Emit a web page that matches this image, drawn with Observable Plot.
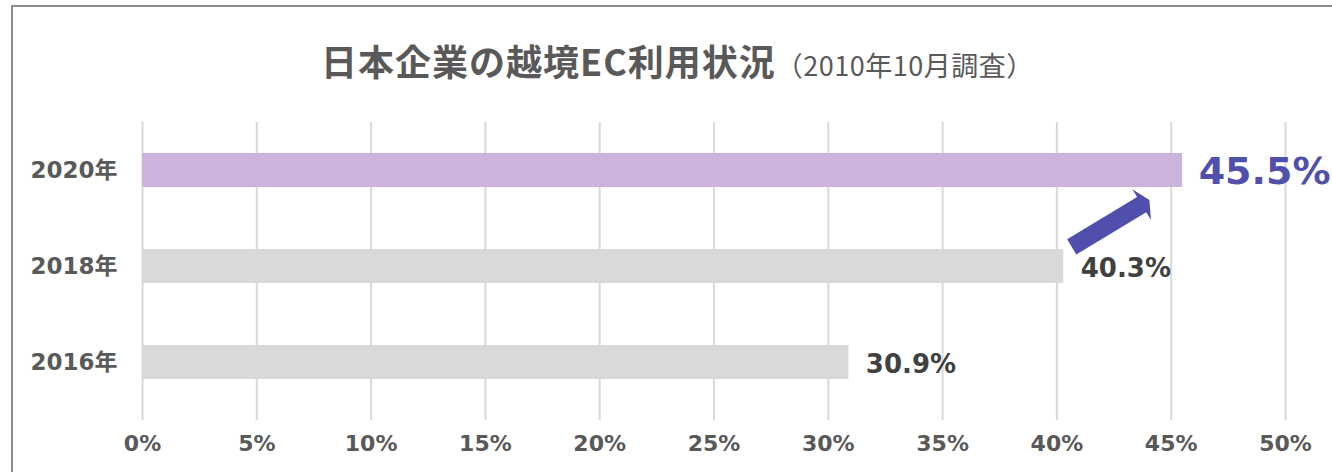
<!DOCTYPE html>
<html><head><meta charset="utf-8">
<script src="https://cdn.jsdelivr.net/npm/d3@7"></script>
<script src="https://cdn.jsdelivr.net/npm/@observablehq/plot@0.6"></script>
<style>
body{margin:0;background:#fff;}
#wrap{position:relative;width:1332px;height:472px;overflow:hidden;background:#fff;}
#frame{position:absolute;left:11px;top:5px;width:1400px;height:600px;border:2px solid #8c8c8c;box-sizing:border-box;}
#title{position:absolute;left:321px;top:42px;display:flex;align-items:baseline;white-space:nowrap;color:#595959;font-family:"Noto Sans CJK JP","Noto Sans",sans-serif;}
#title .main{font-size:36px;font-weight:bold;line-height:36px;letter-spacing:1px;}
#title .sub{font-size:27px;margin-left:0px;letter-spacing:0.5px;}
#chart{position:absolute;left:0;top:112px;}
</style>
</head><body>
<div id="wrap">
  <div id="frame"></div>
  <div id="title"><span class="main"></span><span class="sub"></span></div>
  <div id="chart"></div>
</div>
<script>
// ---- data ----
const years = ["2020年", "2018年", "2016年"];
const rates = [45.5, 40.3, 30.9];
const xTicks = [0, 5, 10, 15, 20, 25, 30, 35, 40, 45, 50];
const titleText = "日本企業の越境EC利用状況";
const subtitleText = "（2010年10月調査）";

// ---- styles ----
const highlightYear = "2020年";
const highlightFill = "#ccb3dc";
const baseFill = "#d9d9d9";
const accent = "#5050ac";
const axisColor = "#595959";
const labelColor = "#404040";
const numFont = '"DejaVu Sans", "Noto Sans CJK JP", sans-serif';

const data = years.map((y, i) => ({year: y, value: rates[i]}));

// arrow annotation (from 2018 toward 2020), offsets as fraction of band step
const arrow = {x1: 40.67, y1: "2018年", o1: -0.2, x2: 43.73, y2: "2020年", o2: 0.36,
               shaft: 8.85, head: 18, len: 9};

function arrowMark(index, scales) {
  const x = scales.x, y = scales.y;
  const bw = y.bandwidth ? y.bandwidth() : 0;
  const step = y.step ? y.step() : 96;
  const t = [x(arrow.x1), y(arrow.y1) + bw / 2 + arrow.o1 * step];
  const b = [x(arrow.x2), y(arrow.y2) + bw / 2 + arrow.o2 * step];
  const dx = b[0] - t[0], dy = b[1] - t[1], L = Math.hypot(dx, dy);
  const u = [dx / L, dy / L], n = [-u[1], u[0]];
  const p = (o, s, l = 0) => [o[0] + n[0] * s + u[0] * l, o[1] + n[1] * s + u[1] * l];
  const pts = [p(t, -arrow.shaft), p(b, -arrow.shaft), p(b, -arrow.head), p(b, 0, arrow.len),
               p(b, arrow.head), p(b, arrow.shaft), p(t, arrow.shaft)];
  const g = d3.create("svg:g");
  g.append("path").attr("d", "M" + pts.map(q => q.join(",")).join("L") + "Z").attr("fill", accent);
  return g.node();
}

document.querySelector("#title .main").textContent = titleText;
document.querySelector("#title .sub").textContent = subtitleText;

const chart = Plot.plot({
  width: 1332,
  height: 360,
  marginLeft: 142,
  marginRight: 47,
  marginTop: 10,
  marginBottom: 52,
  style: {fontFamily: numFont, background: "transparent"},
  x: {domain: [0, 50]},
  y: {domain: years, range: [10, 298], paddingInner: 0.646, paddingOuter: 0.323},
  color: {type: "identity"},
  marks: [
    Plot.ruleX(xTicks, {stroke: "#d9d9d9", strokeWidth: 2}),
    Plot.barX(data, {x: "value", y: "year", fill: d => d.year === highlightYear ? highlightFill : baseFill}),
    Plot.axisX({ticks: xTicks, tickFormat: d => d + "%", tickSize: 0, tickPadding: 15,
      fontSize: 22, fontWeight: "bold", fill: axisColor, label: null, fontFamily: numFont}),
    Plot.axisY({tickSize: 0, tickPadding: 25, fontSize: 23, fontWeight: "bold", fill: axisColor, label: null, fontFamily: numFont}),
    Plot.text(data.filter(d => d.year !== highlightYear), {x: "value", y: "year",
      text: d => d.value.toFixed(1) + "%", textAnchor: "start", dx: 17, dy: 2,
      fontSize: 26, fontWeight: "bold", fill: labelColor, fontFamily: numFont}),
    Plot.text(data.filter(d => d.year === highlightYear), {x: "value", y: "year",
      text: d => d.value.toFixed(1) + "%", textAnchor: "start", dx: 16, dy: 1,
      fontSize: 38, fontWeight: "bold", fill: accent, fontFamily: numFont}),
    arrowMark
  ]
});
document.getElementById("chart").appendChild(chart);
</script>
</body></html>
